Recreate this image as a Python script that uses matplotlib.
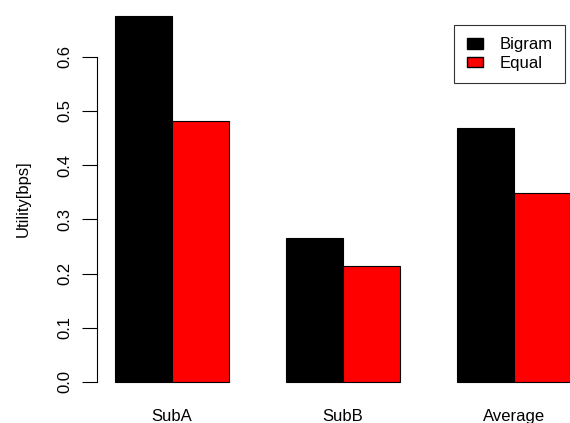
import matplotlib
matplotlib.use("Agg")
import matplotlib.pyplot as plt
import numpy as np
from matplotlib.patches import Patch

plt.rcParams["font.family"] = ["Liberation Sans", "DejaVu Sans"]

# Utility per group for the two strategies
groups = ["SubA", "SubB", "Average"]
bigram = [0.675, 0.266, 0.469]
equal = [0.482, 0.214, 0.349]

W, H = 570, 423
fig = plt.figure(figsize=(W / 100, H / 100), dpi=100)

# plot region in pixels (R style barplot layout)
left_px, top_px, bottom_px = 96.8, 1.5, 396.6
ax = fig.add_axes([left_px / W, 1 - bottom_px / H, 1 - left_px / W, (bottom_px - top_px) / H])

# bars laid out like barplot(beside=TRUE): width 1, space 1 between groups
starts = np.array([1, 4, 7])
ax.bar(starts, bigram, width=1, align="edge", color="black", edgecolor="black", linewidth=0.8)
ax.bar(starts + 1, equal, width=1, align="edge", color="red", edgecolor="black", linewidth=0.8)

ax.set_xlim(0.68, 0.68 + (W - left_px) / 57.0)
ax.set_ylim(-0.027, 0.702)

for s in ["top", "right", "bottom"]:
    ax.spines[s].set_visible(False)
ax.spines["left"].set_bounds(0, 0.6)
ax.spines["left"].set_linewidth(0.8)

ax.set_yticks(np.arange(0, 0.61, 0.1))
ax.set_yticklabels(["%.1f" % v for v in np.arange(0, 0.61, 0.1)], rotation=90, va="center")
ax.tick_params(axis="y", length=10.5, width=0.8, labelsize=12, pad=7)
ax.set_xticks(starts + 1)
ax.set_xticklabels(groups, fontsize=12)
ax.tick_params(axis="x", length=0, pad=9)
ax.set_ylabel("Utility[bps]", fontsize=12, labelpad=19)

handles = [Patch(facecolor="black", edgecolor="black"), Patch(facecolor="red", edgecolor="black")]
leg = ax.legend(handles, ["Bigram", "Equal"], loc="upper right",
                bbox_to_anchor=((565 - left_px) / (W - left_px), 1 - (25 - top_px) / (bottom_px - top_px)),
                fontsize=12, frameon=True, fancybox=False, edgecolor="black", borderpad=0.75,
                handlelength=0.95, handleheight=0.6, labelspacing=0.2, handletextpad=1.0, borderaxespad=0)
leg.get_frame().set_linewidth(0.8)

fig.savefig("out.png", dpi=100)
